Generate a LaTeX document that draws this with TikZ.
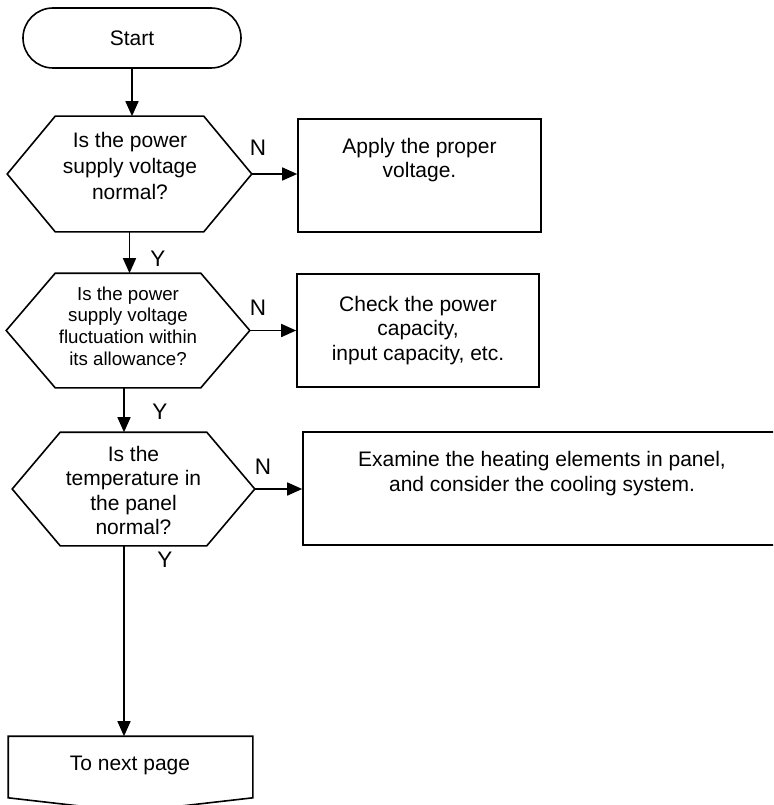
\documentclass[tikz,border=0pt]{standalone}
\usepackage{fontspec}
\setmainfont{Liberation Sans}
\usetikzlibrary{arrows.meta,calc}
\begin{document}
\begin{tikzpicture}[x=1pt,y=-1pt,
  line width=1.6pt,
  arr/.style={-{Triangle[length=15pt,width=13pt]}},
  txt/.style={align=center,font=\fontsize{21}{24.5}\selectfont,inner sep=0pt},
  txtA/.style={align=center,font=\fontsize{21}{25.8}\selectfont,inner sep=0pt},
  txtB/.style={align=center,font=\fontsize{18.7}{21.7}\selectfont,inner sep=0pt},
  lbl/.style={font=\fontsize{22.5}{24}\selectfont,inner sep=0pt},
  shp/.style={inner sep=0pt,minimum width=#1},
]
\clip (0,0) rectangle (773,805);
\fill[white] (0,0) rectangle (773,805);

% Start terminal
\node[draw, rounded corners=30pt, minimum width=218pt, minimum height=60pt, txt] (start) at (132,38) {Start};

% Decision 1
\node[shp=243pt, minimum height=114pt] (h1) at (129.5,174) {};
\draw (h1.west) -- ([xshift=48pt]h1.north west) -- ([xshift=-48pt]h1.north east) -- (h1.east)
  -- ([xshift=-48pt]h1.south east) -- ([xshift=48pt]h1.south west) -- cycle;
\node[txtA] (h1t) at (130,166) {Is the power\\supply voltage\\normal?};

% Box 1
\node[draw, shp=243pt, minimum height=113pt] (b1) at (419.5,175.5) {};
\node[txt] (b1t) at (419.5,160) {Apply the proper\\voltage.};

% Decision 2
\node[shp=242pt, minimum height=113pt] (h2) at (128,330.5) {};
\draw (h2.west) -- ([xshift=49pt]h2.north west) -- ([xshift=-49pt]h2.north east) -- (h2.east)
  -- ([xshift=-49pt]h2.south east) -- ([xshift=49pt]h2.south west) -- cycle;
\node[txtB] (h2t) at (128,326) {Is the power\\supply voltage\\fluctuation within\\its allowance?};

% Box 2
\node[draw, shp=242pt, minimum height=113pt, txt] (b2) at (418,330.5) {Check the power\\capacity,\\input capacity, etc.};

% Decision 3
\node[shp=241pt, minimum height=112pt] (h3) at (133.5,489) {};
\draw (h3.west) -- ([xshift=48pt]h3.north west) -- ([xshift=-48pt]h3.north east) -- (h3.east)
  -- ([xshift=-48pt]h3.south east) -- ([xshift=48pt]h3.south west) -- cycle;
\node[txt] (h3t) at (133.5,490.5) {Is the\\temperature in\\the panel\\normal?};

% Box 3 (runs off the right edge)
\node[draw, shp=487pt, minimum height=113pt] (b3) at (546.5,488.5) {};
\node[txt] (b3t) at (542,473.5) {Examine the heating elements in panel,\\and consider the cooling system.};

% Off-page connector
\node[shp=243pt, minimum height=60pt] (nx) at (130.5,767) {};
\draw (nx.south west) -- (nx.north west) -- (nx.north east) -- (nx.south east)
  -- ($(nx.south)+(0,14)$) -- cycle;
\node[txt] (nxt) at (130,765) {To next page};

% Connectors
\draw[arr] (start.south) -- (start.south |- h1.north);
\draw[arr] (h1.south) -- (h1.south |- h2.north);
\draw[arr] ([xshift=-4pt]h2.south) -- ([xshift=-4pt]h2.south |- h3.north);
\draw[arr] ([xshift=-9.5pt]h3.south) -- ([xshift=-9.5pt]h3.south |- nx.north);
\draw[arr] (h1.east) -- (h1.east -| b1.west);
\draw[arr] (h2.east) -- (h2.east -| b2.west);
\draw[arr] (h3.east) -- (h3.east -| b3.west);

% Labels
\node[lbl] (n1) at (258,148) {N};
\node[lbl] (y1) at (158,259) {Y};
\node[lbl] (n2) at (258,308) {N};
\node[lbl] (y2) at (160,412) {Y};
\node[lbl] (n3) at (263,467) {N};
\node[lbl] (y3) at (165,560) {Y};
\end{tikzpicture}
\end{document}
